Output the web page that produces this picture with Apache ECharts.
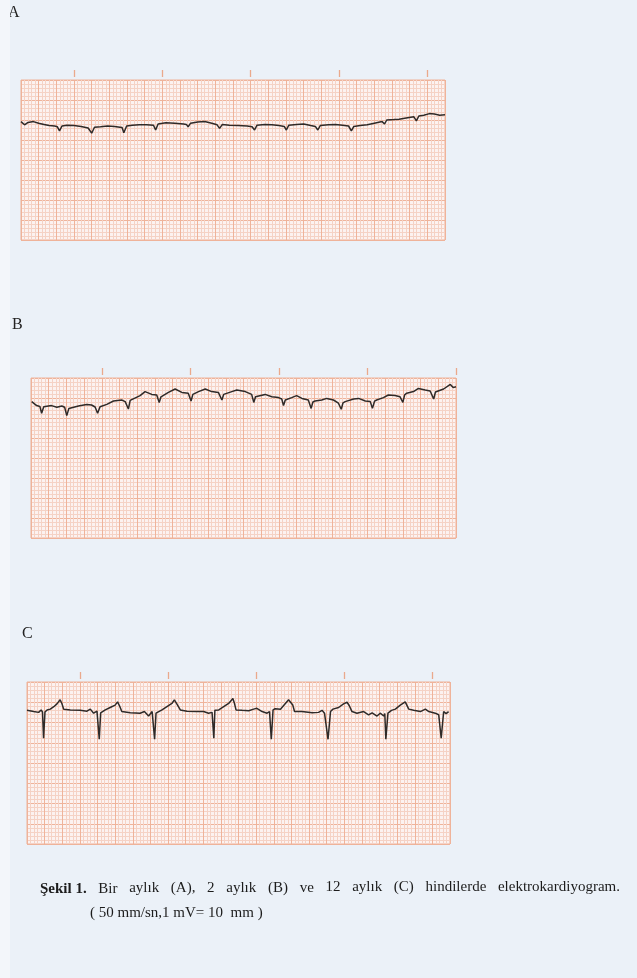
<!DOCTYPE html>
<html><head><meta charset="utf-8">
<script src="https://cdn.jsdelivr.net/npm/echarts@6/dist/echarts.min.js"></script>
<style>html,body{margin:0;padding:0;background:#ebf1f8;}#c{width:637px;height:978px;}</style>
</head><body><div id="c"></div>
<script>
// ---- data (x in mm of paper, y in mm of paper) ----
const panelLabels = ['A', 'B', 'C'];
const timingMarksA = [15, 40, 65, 90, 115];
const timingMarksB = [20, 45, 70, 95, 120];
const timingMarksC = [15, 40, 65, 90, 115];

const traceA = [[0,29.6],[1,28.8],[2,29.4],[3.5,29.6],[5,29.2],[6.5,28.9],[8,28.6],[9.5,28.5],[10.3,28.3],[10.9,27.3],[11.6,28.5],[13,28.7],[15,28.6],[17,28.4],[19,28.0],[19.5,28.0],[20,26.7],[20.8,28.2],[22.5,28.3],[24.5,28.5],[26.5,28.4],[28,28.2],[28.6,28.1],[29.1,26.8],[29.9,28.5],[31.5,28.7],[33.5,28.8],[35.5,28.8],[37.5,28.7],[38.1,27.5],[38.8,29.0],[41,29.3],[43.5,29.2],[46,29.0],[46.8,28.9],[47.3,28.3],[48,29.2],[50,29.5],[52,29.6],[54,29.2],[55.5,28.8],[56.2,27.9],[57,28.9],[59,28.7],[61.5,28.6],[64,28.5],[65.4,28.3],[66.1,27.5],[66.8,28.7],[69,28.9],[71,28.8],[73,28.6],[74.5,28.4],[75.1,27.5],[75.8,28.7],[78,28.9],[80,29.0],[82,28.6],[83.3,28.4],[84,27.5],[84.7,28.6],[87,28.8],[89,28.9],[91,28.7],[92.7,28.5],[93.5,27.3],[94.2,28.4],[96,28.6],[98,28.8],[100,29.2],[102.2,29.6],[102.9,29.0],[103.5,30.0],[105.5,30.1],[107,30.2],[109,30.5],[111.2,30.8],[111.9,29.8],[112.6,31.0],[114,31.2],[115.6,31.6],[117,31.5],[118.5,31.2],[120,31.3]];

const traceB = [[0.2,34.1],[1.6,33.1],[2.5,32.9],[3.0,31.2],[3.6,32.8],[4.0,32.6],[5.8,33.1],[7.3,32.7],[8.7,33.0],[9.5,32.7],[10.1,30.6],[10.7,32.4],[11.0,32.4],[13.4,33.0],[15.7,33.4],[17.1,33.25],[18.1,32.75],[18.8,31.2],[19.5,32.8],[21.4,33.4],[23.3,34.25],[25.6,34.5],[26.6,34.1],[27.1,33.9],[27.5,32.25],[28.0,34.4],[28.4,34.75],[30.8,35.6],[32.2,36.6],[34.1,35.9],[35.5,35.75],[35.8,35.3],[36.2,33.9],[36.7,35.3],[36.9,35.6],[38.8,36.4],[40.7,37.25],[42.6,36.4],[44.4,36.2],[44.8,35.8],[45.2,34.25],[45.7,35.9],[45.9,36.2],[47.3,36.6],[49.2,37.25],[51.0,36.6],[52.9,36.4],[53.4,36.0],[53.9,34.5],[54.4,35.9],[54.8,36.2],[56.7,36.6],[58.1,37.0],[60.5,36.6],[62.3,35.9],[62.9,33.9],[63.4,35.3],[63.7,35.6],[66.1,35.9],[68.0,35.3],[69.9,35.1],[70.8,34.75],[71.3,33.1],[71.8,34.5],[72.2,34.75],[73.6,35.1],[75.0,35.6],[76.5,34.9],[78.3,34.5],[78.7,34.1],[79.1,32.4],[79.6,34.0],[80.2,34.25],[82.1,34.5],[83.5,34.9],[85.4,34.5],[86.8,33.7],[87.2,33.4],[87.6,32.2],[88.1,33.8],[88.7,34.1],[91.1,34.75],[92.5,34.9],[94.4,34.25],[95.8,34.1],[96.1,33.7],[96.4,32.4],[97.0,34.2],[97.6,34.5],[99.5,35.1],[100.9,35.75],[102.8,35.6],[104.2,35.3],[104.6,34.9],[105.0,33.9],[105.5,35.8],[106.1,36.2],[108.0,36.6],[109.4,37.4],[111.3,37.0],[112.7,36.75],[113.2,36.3],[113.7,34.75],[114.2,36.5],[114.6,37.0],[116.5,37.25],[118.4,38.4],[119.2,37.6],[120,37.8]];

const traceC = [[0,33.0],[1.9,32.7],[3.3,32.5],[4.0,33.1],[4.4,32.6],[4.7,26.1],[5.1,32.6],[5.7,33.1],[6.6,33.3],[7.6,33.9],[8.5,34.6],[9.4,35.6],[9.9,34.7],[10.4,33.3],[12.3,33.1],[15.1,33.0],[17.0,32.8],[17.96,33.3],[18.9,32.3],[19.85,32.8],[20.2,32.6],[20.5,25.85],[20.9,32.4],[22.2,33.1],[23.6,33.7],[25.0,34.3],[25.7,35.1],[26.3,34.0],[26.9,32.7],[29.3,32.4],[32.1,32.3],[33.3,32.7],[34.5,31.6],[35.5,32.7],[35.9,32.4],[36.2,25.85],[36.6,32.3],[36.9,32.4],[38.3,33.1],[39.7,33.9],[41.1,34.7],[41.8,35.6],[42.5,34.6],[43.5,33.1],[45.4,32.8],[48.2,32.7],[50.1,32.7],[51.5,32.3],[52.5,32.5],[52.7,32.8],[53.0,26.1],[53.3,33.0],[54.4,33.1],[55.8,33.9],[57.2,34.7],[58.4,35.9],[58.8,34.9],[59.3,33.1],[61.0,33.0],[62.9,32.9],[64.3,33.3],[65.2,33.5],[66.7,32.7],[68.1,32.3],[68.8,32.7],[69.3,25.85],[69.8,33.1],[70.4,33.4],[71.9,33.3],[73.3,34.7],[74.2,35.6],[74.7,35.9],[75.4,34.3],[75.9,32.7],[78.0,32.7],[80.9,32.4],[82.7,32.5],[83.7,33.0],[84.4,32.3],[84.9,32.7],[85.4,25.85],[86.1,32.7],[86.8,33.3],[88.4,33.7],[89.8,34.6],[90.8,35.0],[91.4,34.2],[92.2,32.7],[93.6,32.3],[95.5,32.7],[96.9,31.9],[97.9,32.4],[99.3,31.6],[100.2,32.3],[101.2,31.6],[101.5,32.2],[101.8,25.85],[102.4,32.3],[103.4,33.0],[104.5,33.3],[105.9,34.3],[107.3,35.1],[108.3,33.3],[109.7,33.0],[111.6,32.7],[113.0,33.3],[114.0,32.7],[115.8,32.3],[116.8,31.9],[117.2,32.3],[117.5,26.1],[118.2,32.7],[118.9,32.2],[119.6,32.7]];

const captionBold = 'Şekil 1.';
const captionWords = ['Bir', 'aylık', '(A),', '2', 'aylık', '(B)', 've', '12', 'aylık', '(C)', 'hindilerde', 'elektrokardiyogram.'];
const captionLine2 = '( 50 mm/sn,1 mV= 10  mm )';

// ---- styles / layout ----
const PAPER = '#fcf2f0', MINOR = '#f5d2c5', MAJOR = '#efb39a', TICK = '#eaa98c', INK = '#2f2a28';
const FONT = '"Liberation Serif", "Times New Roman", serif';
const panelLayout = [
  { left: 21, top: 80, width: 424, height: 160, label: [8, 13] },
  { left: 31, top: 378, width: 425, height: 160, label: [12, 325] },
  { left: 27, top: 682, width: 423, height: 162, label: [22, 634] }
];
const traces = [traceA, traceB, traceC];
const marks = [timingMarksA, timingMarksB, timingMarksC];

const grid = [], xAxis = [], yAxis = [], series = [], graphic = [];
panelLayout.forEach((p, i) => {
  grid.push({ left: p.left, top: p.top, width: p.width, height: p.height, show: true,
    backgroundColor: PAPER, borderColor: MAJOR, borderWidth: 1 });
  xAxis.push({ type: 'value', gridIndex: i, min: 0, max: 120, interval: 5,
    axisLine: { show: false }, axisTick: { show: false }, axisLabel: { show: false },
    splitLine: { show: true, lineStyle: { color: MAJOR, width: 1 } },
    minorTick: { show: false, splitNumber: 5 },
    minorSplitLine: { show: true, lineStyle: { color: MINOR, width: 1 } } });
  xAxis.push({ type: 'value', gridIndex: i, position: 'top', offset: 3, min: 0, max: 120,
    axisLine: { show: false }, axisLabel: { show: false }, splitLine: { show: false },
    axisTick: { show: true, customValues: marks[i], length: 7, lineStyle: { color: TICK, width: 1.3 } } });
  yAxis.push({ type: 'value', gridIndex: i, min: 0, max: 40, interval: 5,
    axisLine: { show: false }, axisTick: { show: false }, axisLabel: { show: false },
    splitLine: { show: true, lineStyle: { color: MAJOR, width: 1 } },
    minorTick: { show: false, splitNumber: 5 },
    minorSplitLine: { show: true, lineStyle: { color: MINOR, width: 1 } } });
  series.push({ type: 'line', xAxisIndex: 2 * i, yAxisIndex: i, data: traces[i],
    showSymbol: false, symbol: 'none', silent: true, animation: false, z: 5,
    lineStyle: { color: INK, width: 1.5 } });
  graphic.push({ type: 'text', x: p.label[0], y: p.label[1], z: 10,
    style: { text: panelLabels[i], font: '16px ' + FONT, fill: '#222', verticalAlign: 'middle' } });
});

// justified caption line
const ctx = document.createElement('canvas').getContext('2d');
const capLeft = 40, capRight = 620, capYLeft = 889, capYRight = 886, capSize = 15;
const allWords = [captionBold].concat(captionWords);
const widths = allWords.map((w, k) => { ctx.font = (k === 0 ? 'bold ' : '') + capSize + 'px ' + FONT; return ctx.measureText(w).width; });
const gap = (capRight - capLeft - widths.reduce((a, b) => a + b, 0)) / (allWords.length - 1);
let cx = capLeft;
allWords.forEach((w, k) => {
  const yy = capYLeft + (capYRight - capYLeft) * (cx - capLeft) / (capRight - capLeft);
  graphic.push({ type: 'text', x: cx, y: yy, z: 10,
    style: { text: w, font: (k === 0 ? 'bold ' : '') + capSize + 'px ' + FONT, fill: '#1c1c1c', verticalAlign: 'middle' } });
  cx += widths[k] + gap;
});
graphic.push({ type: 'text', x: 90, y: 913, z: 10,
  style: { text: captionLine2, font: capSize + 'px ' + FONT, fill: '#1c1c1c', verticalAlign: 'middle' } });
// scan edge strip
graphic.push({ type: 'rect', z: 20, shape: { x: 0, y: 0, width: 10, height: 978 }, style: { fill: '#f3f6fa' } });

const chart = echarts.init(document.getElementById('c'), null, { renderer: 'canvas' });
chart.setOption({ backgroundColor: '#ebf1f8', animation: false, grid, xAxis, yAxis, series, graphic });
</script></body></html>
